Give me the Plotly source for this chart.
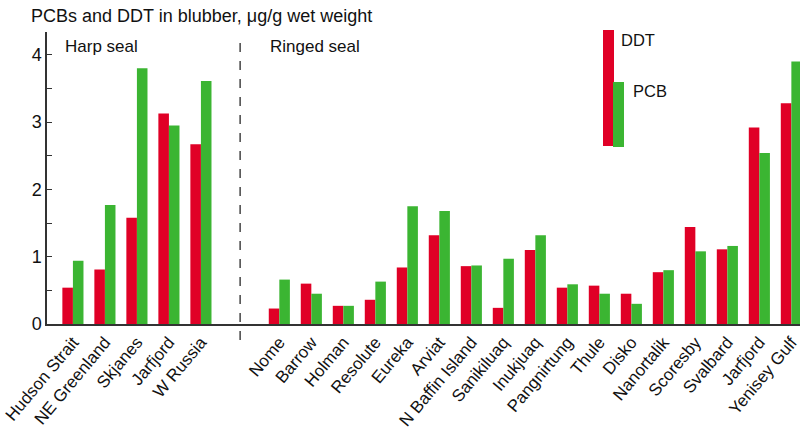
import plotly.graph_objects as go

harp_sites = ['Hudson Strait', 'NE Greenland', 'Skjanes', 'Jarfjord', 'W Russia']
harp_ddt = [0.54, 0.81, 1.58, 3.13, 2.67]
harp_pcb = [0.94, 1.77, 3.80, 2.95, 3.61]

ringed_sites = ['Nome', 'Barrow', 'Holman', 'Resolute', 'Eureka', 'Arviat',
                'N Baffin Island', 'Sanikiluaq', 'Inukjuaq', 'Pangnirtung',
                'Thule', 'Disko', 'Nanortalik', 'Scoresby', 'Svalbard',
                'Jarfjord', 'Yenisey Gulf']
ringed_ddt = [0.23, 0.60, 0.27, 0.36, 0.84, 1.32, 0.86, 0.24, 1.10,
              0.54, 0.57, 0.45, 0.77, 1.44, 1.11, 2.92, 3.28]
ringed_pcb = [0.66, 0.45, 0.27, 0.63, 1.75, 1.68, 0.87, 0.97, 1.32,
              0.59, 0.45, 0.30, 0.80, 1.08, 1.16, 2.54, 3.90]

RED = '#E00026'
GREEN = '#3BB532'
FONT = 'Liberation Sans, Arial, sans-serif'

# ringed seal group starts after a wider gap
gap = 2.45
xpos = list(range(len(harp_sites))) + [len(harp_sites) - 1 + gap + i for i in range(len(ringed_sites))]
labels = harp_sites + ringed_sites
ddt = harp_ddt + ringed_ddt
pcb = harp_pcb + ringed_pcb
w = 0.33

fig = go.Figure()
fig.add_trace(go.Bar(x=xpos, y=ddt, name='DDT', marker_color=RED,
                     marker_line_width=0, width=w, offset=-w))
fig.add_trace(go.Bar(x=xpos, y=pcb, name='PCB', marker_color=GREEN,
                     marker_line_width=0, width=w, offset=0))

L, T, B = 47, 32, 108
W, H = 800 - L, 432 - T - B
px = lambda p: (p - L) / W
py = lambda p: (432 - B - p) / H

# divider between the two seal groups
xdiv = (len(harp_sites) - 1 + len(harp_sites) - 1 + gap) / 2
fig.add_shape(type='line', xref='x', yref='paper', x0=xdiv, x1=xdiv,
              y0=py(340), y1=py(35), line=dict(color='#444', width=1.5, dash='dash'))

# legend drawn as tall bars
fig.add_shape(type='rect', xref='paper', yref='paper', x0=px(603), x1=px(614),
              y0=py(146), y1=py(30), fillcolor=RED, line_width=0)
fig.add_shape(type='rect', xref='paper', yref='paper', x0=px(613), x1=px(624),
              y0=py(147), y1=py(82), fillcolor=GREEN, line_width=0)
fig.add_annotation(text='DDT', xref='paper', yref='paper', x=px(619), y=py(40),
                   xanchor='left', yanchor='middle', showarrow=False,
                   font=dict(size=16.5, color='#111', family=FONT))
fig.add_annotation(text='PCB', xref='paper', yref='paper', x=px(631), y=py(91),
                   xanchor='left', yanchor='middle', showarrow=False,
                   font=dict(size=16.5, color='#111', family=FONT))

fig.add_annotation(text='Harp seal', xref='paper', yref='paper', x=px(63), y=py(47),
                   xanchor='left', yanchor='middle', showarrow=False,
                   font=dict(size=17, color='#111', family=FONT))
fig.add_annotation(text='Ringed seal', xref='paper', yref='paper', x=px(268), y=py(47),
                   xanchor='left', yanchor='middle', showarrow=False,
                   font=dict(size=17, color='#111', family=FONT))

fig.update_layout(
    width=800, height=432,
    margin=dict(l=L, r=0, t=T, b=B),
    paper_bgcolor='white', plot_bgcolor='white',
    showlegend=False,
    font=dict(family=FONT, color='#111'),
    title=dict(text='PCBs and DDT in blubber, μg/g wet weight', xref='container',
               yref='container', x=31 / 800, y=1 - 16 / 432, xanchor='left',
               yanchor='middle', font=dict(size=18, family=FONT, color='#111')),
    xaxis=dict(range=[-0.81, 22.72], tickvals=xpos, ticktext=labels,
               tickangle=-50, ticks='', showgrid=False, zeroline=False,
               showline=True, linecolor='#333', linewidth=1.5, automargin=False,
               ticklabeloverflow='allow',
               tickfont=dict(size=17, family=FONT, color='#111')),
    yaxis=dict(range=[0, 4.34], tickvals=[0, 1, 2, 3, 4], ticks='inside',
               ticklen=5, tickcolor='#333', showgrid=False, zeroline=False,
               showline=True, linecolor='#333', linewidth=1.5, automargin=False,
               minor=dict(tickvals=[0.5, 1.5, 2.5, 3.5], ticks='inside',
                          ticklen=5, tickcolor='#333'),
               tickfont=dict(size=18, family=FONT, color='#111')),
)

fig.write_html('out.html', config={'displayModeBar': False},
               post_script="document.body.style.margin='0';")
